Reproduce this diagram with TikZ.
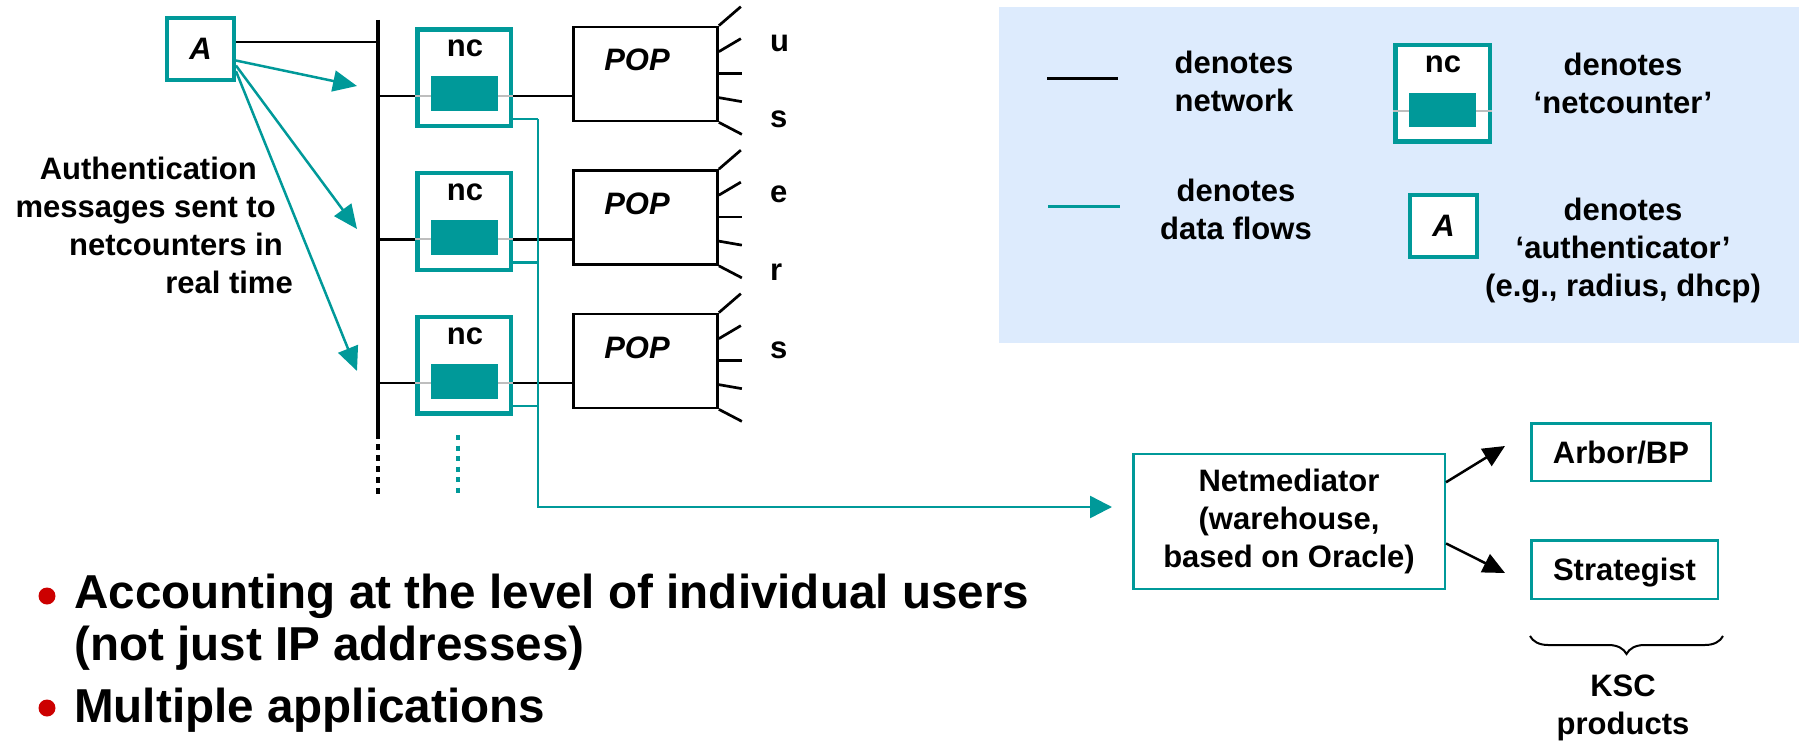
\documentclass[tikz,border=0pt]{standalone}
\usepackage{fontspec}
\setmainfont{Liberation Sans}
\usetikzlibrary{arrows.meta,decorations.pathreplacing,calc}
\definecolor{flowc}{RGB}{0,153,153}
\definecolor{legendbg}{RGB}{221,235,253}
\definecolor{wire}{RGB}{190,190,190}
\definecolor{dotred}{RGB}{204,0,0}
\tikzset{
  lbl/.style={font=\fontsize{31pt}{38pt}\selectfont\bfseries, inner sep=0pt, align=center},
  itl/.style={font=\fontsize{31pt}{38pt}\selectfont\bfseries\itshape, inner sep=0pt},
  big/.style={font=\fontsize{47.6pt}{52pt}\selectfont\bfseries, inner sep=0pt, align=left},
  net/.style={draw=black, line width=2.7pt},
  flow/.style={draw=flowc, line width=2.5pt},
  ncbox/.style={draw=flowc, line width=4.5pt, fill=white, minimum width=93.5pt, minimum height=96.5pt, inner sep=0pt},
  counter/.style={fill=flowc, minimum width=67pt, minimum height=35pt, inner sep=0pt},
  popbox/.style={draw=black, line width=2.7pt, fill=white, minimum width=144pt, minimum height=94pt, inner sep=0pt},
  authbox/.style={draw=flowc, line width=4pt, fill=white, minimum width=67pt, minimum height=62pt, inner sep=0pt},
  prodbox/.style={draw=flowc, line width=2.5pt, fill=white, inner sep=0pt},
  flowtip/.style={-{Triangle[length=24pt,width=21pt]}},
  blacktip/.style={-{Triangle[length=22pt,width=20pt]}},
  dot/.style={circle, fill=dotred, minimum size=17pt, inner sep=0pt},
}
\begin{document}
\begin{tikzpicture}[x=1pt,y=-1pt]
\useasboundingbox (0,0) rectangle (1803,743);

% legend panel
\fill[legendbg] (999,7) rectangle (1799,343);

% network bus
\coordinate (bustop) at (378,20);
\coordinate (busend) at (378,433);
\coordinate (busdots) at (378,495);
\draw[line width=4.8pt] (bustop) -- (busend);
\draw[line width=4.8pt, dash pattern=on 5.5pt off 5.5pt] (busend) -- (busdots);

% more netcounters below
\coordinate (moretop) at (458,435);
\coordinate (moreend) at (458,495);
\draw[flowc, line width=4pt, dash pattern=on 5pt off 5.5pt] (moretop) -- (moreend);

% data trunk towards the warehouse
\coordinate (trunk) at (538,507);
\coordinate (nmin) at (1112,507);

% netcounter / POP rows
\foreach \i/\y in {1/96,2/239.5,3/383}{
  \coordinate (r\i) at (378,\y);
  \coordinate (f\i) at (538,{\y+23});
  \node[ncbox] (ncb\i) at (464,{\y-18}) {};
  \node[popbox] (pop\i) at (645.5,{\y-22}) {};
  \draw[net] (r\i) -- (r\i -| ncb\i.west);
  \draw[net] (r\i -| ncb\i.east) -- (r\i -| pop\i.west);
  \draw[wire, line width=2pt] (r\i -| ncb\i.west) -- (r\i -| ncb\i.east);
  \node[counter] (ctr\i) at (464.5,{\y-2}) {};
  \node[lbl, anchor=base] (nct\i) at (465,{\y-39}) {nc};
  \node[itl, anchor=base] (popt\i) at (637,{\y-25}) {POP};
  \draw[flow] (f\i -| ncb\i.east) -- (f\i);
  \draw[net] (pop\i.north east) -- ++(22,-19);
  \draw[net] ($(pop\i.north east)+(0,26)$) -- ++(22,-13);
  \draw[net] ($(pop\i.north east)+(0,48)$) -- ++(23,0);
  \draw[net] ($(pop\i.north east)+(0,72)$) -- ++(23,4);
  \draw[net] (pop\i.south east) -- ++(23,12);
}
\draw[flow, -{Triangle[length=22pt,width=22pt]}] (f1) -- (trunk) -- (nmin);

% users
\node[lbl, anchor=base west] (u1) at (770,52) {u};
\node[lbl, anchor=base west] (u2) at (770,128) {s};
\node[lbl, anchor=base west] (u3) at (770,203) {e};
\node[lbl, anchor=base west] (u4) at (770,280) {r};
\node[lbl, anchor=base west] (u5) at (770,358) {s};

% authenticator
\node[authbox, itl] (auth) at (200.5,49) {A};
\coordinate (busA) at (378,42);
\draw[net] (busA -| auth.east) -- (busA);
\coordinate (t1) at (357,86);
\coordinate (t2) at (357,229);
\coordinate (t3) at (357,371);
\draw[flow, flowtip] (auth.-18.7) -- (t1);
\draw[flow, flowtip] (auth.-25.6) -- (t2);
\draw[flow, flowtip] (auth.-32.4) -- (t3);

% (base anchor of a multi-line node sits on its last line)
\node[lbl, align=right, anchor=base east] (authnote) at (293,293)
  {Authentication\rule{36pt}{0pt}\\messages sent to\rule{17pt}{0pt}\\netcounters in\rule{10pt}{0pt}\\real time};

% warehouse and products
\node[prodbox, lbl, minimum width=311.5pt, minimum height=134.75pt] (nm) at (1289,521.4)
  {Netmediator\\(warehouse,\\based on Oracle)};
\node[prodbox, lbl, text height=22pt, text depth=0pt, minimum width=179.5pt, minimum height=57.5pt] (arbor) at (1621,452) {Arbor/BP};
\node[prodbox, lbl, text height=22pt, text depth=0pt, minimum width=186.5pt, minimum height=58.5pt] (strat) at (1624.5,569.5) {Strategist};
\coordinate (ta) at (1505,446);
\coordinate (ts) at (1505,573);
\draw[line width=2.5pt, blacktip] (nm.14.7) -- (ta);
\draw[line width=2.5pt, blacktip] (nm.-8.5) -- (ts);
\coordinate (brl) at (1530,636);
\coordinate (brr) at (1723,636);
\draw[line width=2pt, decorate, decoration={brace, amplitude=18pt, mirror}] (brl) -- (brr);
\node[lbl, anchor=base] (ksc) at (1623,734) {KSC\\products};

% bullets
\node[dot] (d1) at (47,596) {};
\node[dot] (d2) at (47,708) {};
\node[big, anchor=base west] (b1) at (74,660) {Accounting at the level of individual users\\(not just IP addresses)};
\node[big, anchor=base west] (b2) at (74,722) {Multiple applications};

% legend
\coordinate (lk1) at (1047,79);
\coordinate (lk2) at (1118,79);
\draw[line width=3pt] (lk1) -- (lk2);
\coordinate (lf1) at (1048,207);
\coordinate (lf2) at (1120,207);
\draw[flow, line width=3pt] (lf1) -- (lf2);
\node[lbl, anchor=base] (lnet) at (1234,112) {denotes\\network};
\node[lbl, anchor=base] (lflow) at (1236,240) {denotes\\data flows};
\node[ncbox, minimum width=94.5pt] (lnc) at (1442.5,93.5) {};
\coordinate (lw) at (1442.5,111);
\draw[wire, line width=2pt] (lw -| lnc.west) -- (lw -| lnc.east);
\node[counter, minimum height=34pt] (lctr) at (1442.5,110) {};
\node[lbl, anchor=base] (lnct) at (1443,73) {nc};
\node[lbl, anchor=base] (lnctxt) at (1623,114) {denotes\\‘netcounter’};
\node[authbox, line width=4.3pt, itl] (lauth) at (1443.5,226) {A};
\node[lbl, anchor=base] (lauthtxt) at (1623,296) {denotes\\‘authenticator’\\(e.g., radius, dhcp)};
\end{tikzpicture}
\end{document}
